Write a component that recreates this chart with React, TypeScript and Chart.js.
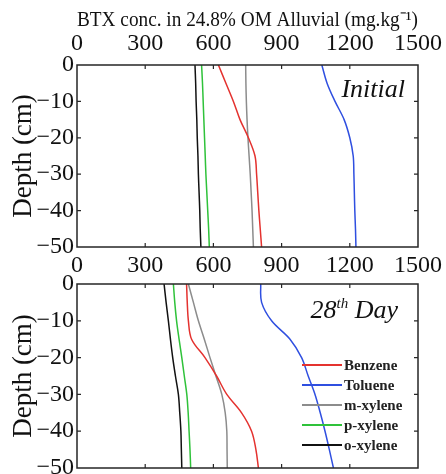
import React, { useEffect, useRef } from "react";
import { Chart, registerables } from "chart.js";
Chart.register(...registerables);

const DEPTHS = [0, -5, -10, -15, -20, -25, -30, -35, -40, -45, -50];
const SERIES_NAMES = ["Benzene", "Toluene", "m-xylene", "p-xylene", "o-xylene"];
const SERIES_COLORS = ["#e4322f", "#2f4fe0", "#8c8c8c", "#2fc23a", "#111111"];
const X_TICKS = [0, 300, 600, 900, 1200, 1500];
const Y_TICKS = [0, -10, -20, -30, -40, -50];
const X_TITLE = "BTX conc. in 24.8% OM Alluvial (mg.kg\u207B\u00B9)";
const Y_TITLE = "Depth (cm)";

const INITIAL_BENZENE = [622, 655, 688, 717, 754, 783, 790, 795, 800, 806, 812];
const INITIAL_TOLUENE = [1077, 1100, 1135, 1175, 1200, 1215, 1218, 1220, 1222, 1225, 1227];
const INITIAL_MXYLENE = [742, 743, 745, 748, 752, 757, 762, 766, 770, 773, 776];
const INITIAL_PXYLENE = [548, 552, 555, 558, 561, 564, 567, 571, 575, 579, 582];
const INITIAL_OXYLENE = [519, 522, 524, 527, 529, 532, 534, 537, 540, 542, 545];

const DAY28_BENZENE = [482, 485, 490, 504, 563, 614, 659, 724, 768, 787, 798];
const DAY28_TOLUENE = [808, 812, 856, 937, 988, 1017, 1047, 1070, 1091, 1110, 1128];
const DAY28_MXYLENE = [490, 512, 534, 560, 585, 611, 637, 652, 659, 660, 661];
const DAY28_PXYLENE = [424, 430, 438, 449, 461, 472, 483, 489, 493, 497, 500];
const DAY28_OXYLENE = [383, 392, 402, 411, 421, 433, 446, 452, 457, 459, 461];

const INITIAL = [INITIAL_BENZENE, INITIAL_TOLUENE, INITIAL_MXYLENE, INITIAL_PXYLENE, INITIAL_OXYLENE];
const DAY28 = [DAY28_BENZENE, DAY28_TOLUENE, DAY28_MXYLENE, DAY28_PXYLENE, DAY28_OXYLENE];

const SERIF = "'Liberation Serif', 'Times New Roman', serif";

const framePlugin = {
  id: "frame",
  afterDatasetsDraw(chart: any) {
    const { ctx, chartArea: a, scales } = chart;
    ctx.save();
    ctx.strokeStyle = "#262626";
    ctx.lineWidth = 1.5;
    ctx.strokeRect(a.left, a.top, a.right - a.left, a.bottom - a.top);
    const L = 4;
    ctx.lineWidth = 1.2;
    ctx.beginPath();
    scales.x.ticks.forEach((t: any) => {
      const px = scales.x.getPixelForValue(t.value);
      if (px <= a.left + 2 || px >= a.right - 2) return;
      ctx.moveTo(px, a.top);
      ctx.lineTo(px, a.top + L);
      ctx.moveTo(px, a.bottom);
      ctx.lineTo(px, a.bottom - L);
    });
    scales.y.ticks.forEach((t: any) => {
      const py = scales.y.getPixelForValue(t.value);
      if (py <= a.top + 2 || py >= a.bottom - 2) return;
      ctx.moveTo(a.left, py);
      ctx.lineTo(a.left + L, py);
      ctx.moveTo(a.right, py);
      ctx.lineTo(a.right - L, py);
    });
    ctx.stroke();
    ctx.restore();
  },
};

const labelPlugin = {
  id: "panelLabel",
  afterDraw(chart: any, _args: any, opts: any) {
    const { ctx, chartArea: a } = chart;
    ctx.save();
    ctx.fillStyle = "#111";
    ctx.textBaseline = "alphabetic";
    if (opts.kind === "initial") {
      ctx.font = `italic 26px ${SERIF}`;
      ctx.textAlign = "right";
      ctx.fillText("Initial", a.right - 13, a.top + 32);
    } else if (opts.kind === "day28") {
      const right = a.right - 20;
      const base = a.top + 34;
      ctx.font = `italic 26px ${SERIF}`;
      const wDay = ctx.measureText(" Day").width;
      ctx.font = `italic 15px ${SERIF}`;
      const wTh = ctx.measureText("th").width;
      ctx.font = `italic 26px ${SERIF}`;
      const w28 = ctx.measureText("28").width;
      let x = right - wDay - wTh - w28;
      ctx.textAlign = "left";
      ctx.fillText("28", x, base);
      x += w28;
      ctx.font = `italic 15px ${SERIF}`;
      ctx.fillText("th", x, base - 10);
      x += wTh;
      ctx.font = `italic 26px ${SERIF}`;
      ctx.fillText(" Day", x, base);
    }
    if (opts.legend) {
      const x0 = a.right - 116;
      const y0 = a.top + 81;
      ctx.font = `bold 15px ${SERIF}`;
      ctx.textAlign = "left";
      ctx.textBaseline = "middle";
      chart.data.datasets.forEach((ds: any, i: number) => {
        const y = y0 + i * 20;
        ctx.strokeStyle = ds.borderColor;
        ctx.lineWidth = 1.8;
        ctx.beginPath();
        ctx.moveTo(x0, y);
        ctx.lineTo(x0 + 40, y);
        ctx.stroke();
        ctx.fillStyle = "#222";
        ctx.fillText(ds.label, x0 + 42, y + 1);
      });
    }
    ctx.restore();
  },
};

function makeConfig(series: number[][], top: boolean): any {
  return {
    type: "scatter",
    data: {
      datasets: series.map((vals, i) => ({
        label: SERIES_NAMES[i],
        data: vals.map((v, j) => ({ x: v, y: DEPTHS[j] })),
        showLine: true,
        borderColor: SERIES_COLORS[i],
        backgroundColor: SERIES_COLORS[i],
        borderWidth: 1.5,
        pointRadius: 0,
        tension: 0.35,
      })),
    },
    options: {
      responsive: false,
      maintainAspectRatio: false,
      animation: false,
      layout: { padding: { left: 0, right: 28, top: 0, bottom: top ? 15 : 6 } },
      plugins: {
        legend: { display: false },
        tooltip: { enabled: false },
        title: { display: false },
        panelLabel: { kind: top ? "initial" : "day28", legend: !top },
      },
      scales: {
        x: {
          type: "linear",
          position: "top",
          min: 0,
          max: 1500,
          afterBuildTicks: (s: any) => {
            s.ticks = X_TICKS.map((v) => ({ value: v }));
          },
          ticks: {
            font: { family: SERIF, size: 24 },
            color: "#111",
            padding: top ? 7 : 4,
            maxRotation: 0,
            autoSkip: false,
            callback: (v: any) => String(v),
          },
          grid: { display: false, drawTicks: false },
          border: { display: false },
          title: {
            display: top,
            text: X_TITLE,
            font: { family: SERIF, size: 22 },
            color: "#111",
            padding: { top: 7, bottom: 0 },
          },
          afterFit: (s: any) => {
            s.height = top ? 65 : 34;
            s.paddingLeft = 0;
            s.paddingRight = 0;
          },
        },
        y: {
          type: "linear",
          min: -50,
          max: 0,
          afterBuildTicks: (s: any) => {
            s.ticks = Y_TICKS.map((v) => ({ value: v }));
          },
          ticks: {
            font: { family: SERIF, size: 24 },
            color: "#111",
            padding: 3,
            autoSkip: false,
            callback: (v: any) => (v === 0 ? "0" : "\u2212" + Math.abs(v)),
          },
          grid: { display: false, drawTicks: false },
          border: { display: false },
          title: {
            display: true,
            text: Y_TITLE,
            font: { family: SERIF, size: 27 },
            color: "#111",
            padding: { top: 8, bottom: 0 },
          },
          afterFit: (s: any) => {
            s.width = 77;
            s.paddingTop = 0;
            s.paddingBottom = 0;
          },
        },
      },
    },
    plugins: [framePlugin, labelPlugin],
  };
}

function Panel(props: { series: number[][]; top: boolean; y: number; h: number }) {
  const ref = useRef<HTMLCanvasElement>(null);
  useEffect(() => {
    const chart = new Chart(ref.current as HTMLCanvasElement, makeConfig(props.series, props.top));
    return () => chart.destroy();
  }, []);
  return (
    <canvas
      ref={ref}
      width={446}
      height={props.h}
      style={{ position: "absolute", left: 0, top: props.y, width: 446, height: props.h }}
    />
  );
}

export default function App() {
  return (
    <div style={{ position: "fixed", left: 0, top: 0, width: 446, height: 474, background: "#fff", overflow: "hidden" }}>
      <Panel series={INITIAL} top={true} y={0} h={262} />
      <Panel series={DAY28} top={false} y={250} h={224} />
    </div>
  );
}
